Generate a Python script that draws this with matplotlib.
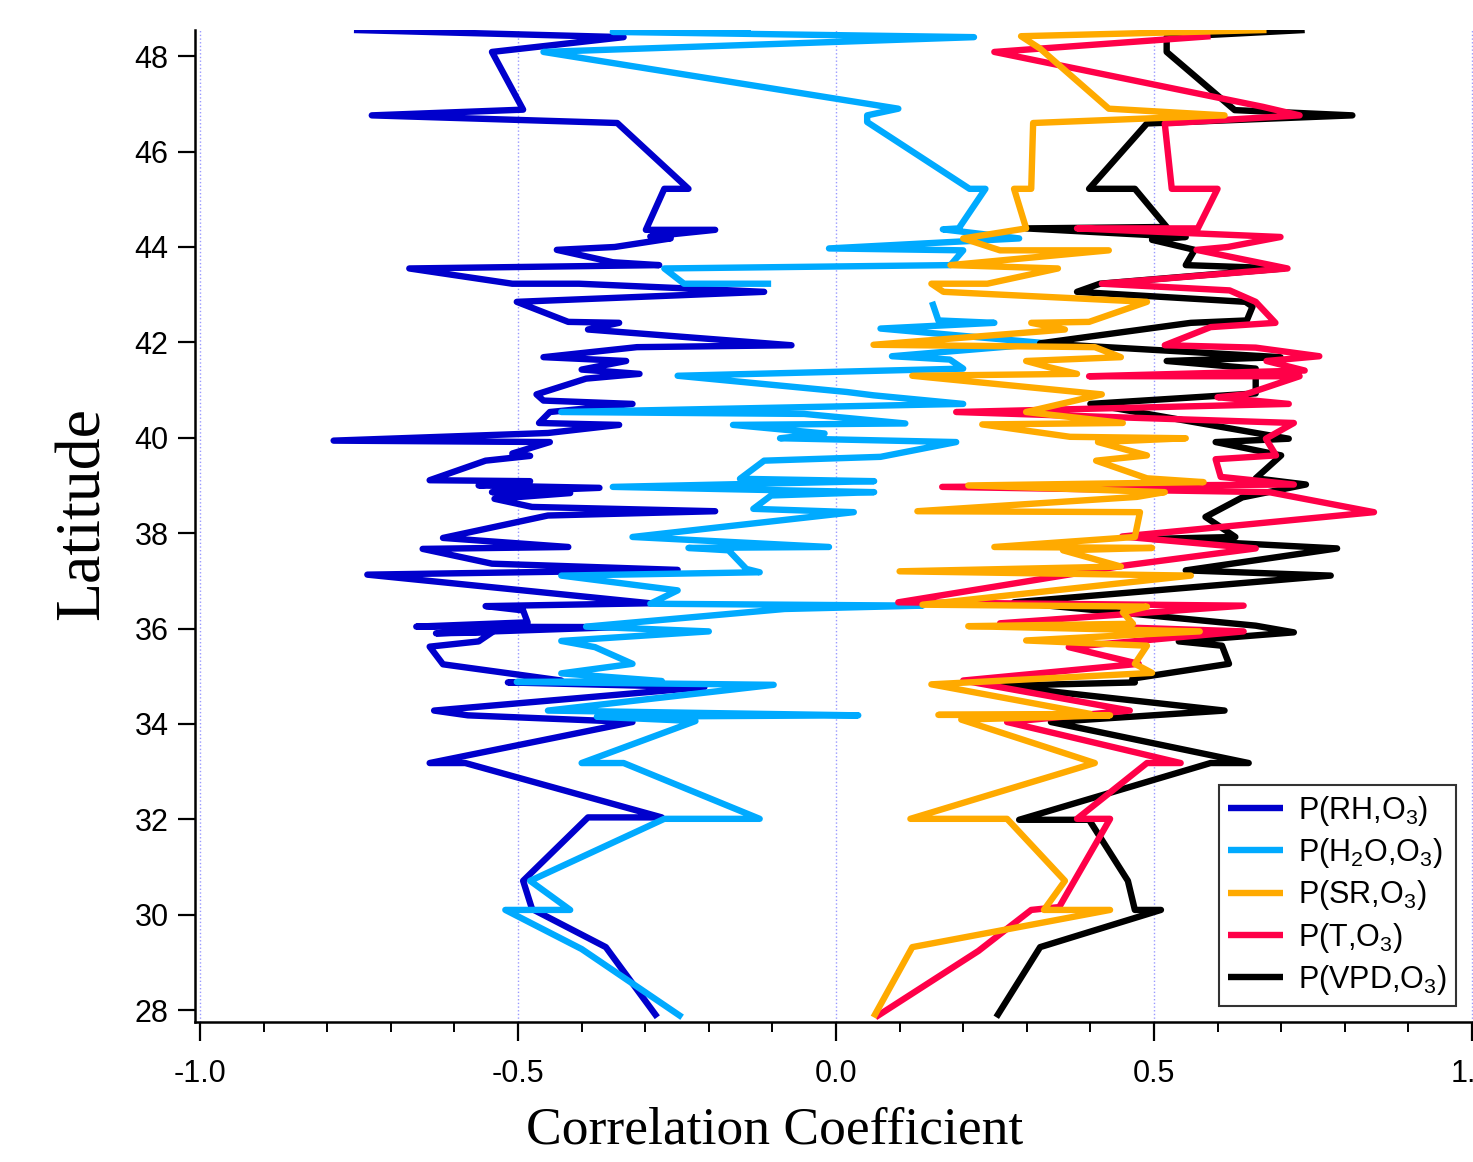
import numpy as np
import matplotlib
matplotlib.use("Agg")
import matplotlib.pyplot as plt
from matplotlib.ticker import MultipleLocator

plt.rcParams['font.family'] = ['Liberation Sans', 'DejaVu Sans']
plt.rcParams['mathtext.default'] = 'regular'
plt.rcParams['axes.unicode_minus'] = False

# latitude / correlation pairs, read top to bottom (nan = gap)
rh_lat = [48.55, 48.40, 48.09, 46.88, 46.76, 46.60, 45.22, 45.22, 44.36, 44.36, 44.22, 44.18,
          44.00, 43.94, 43.68, 43.62, 43.55, 43.23, 43.23, 43.06, 42.85, 42.43, 42.41, 42.27,
          41.94, 41.90, 41.69, 41.61, 41.43, 41.34, 41.24, 40.91, 40.78, 40.71, 40.54, 40.31,
          40.27, 40.10, 39.94, 39.91, 39.67, 39.62, 39.52, 39.11, 39.09, 39.00, 38.95, 38.86,
          38.84, 38.72, 38.55, 38.46, 38.37, 37.90, 37.71, 37.67, 37.36, 37.23, 37.13, 36.53,
          36.47, 36.38, 36.13, 36.04, 36.03, 35.90, 35.92, 35.73, 35.62, 35.25, 34.91, 34.87,
          34.77, 34.28, 34.18, 34.04, 33.18, 33.18, 32.04, 32.04, 30.71, 30.12, 29.32, 27.85]
rh_r = [-0.758, -0.334, -0.541, -0.492, -0.730, -0.344, -0.232, -0.270, -0.299, -0.190, -0.292, -0.260,
        -0.348, -0.439, -0.351, -0.278, -0.671, -0.509, -0.404, -0.113, -0.502, -0.421, -0.341, -0.390,
        -0.070, -0.313, -0.460, -0.330, -0.400, -0.309, -0.393, -0.471, -0.460, -0.320, -0.450, -0.467,
        -0.341, -0.453, -0.790, -0.450, -0.509, -0.481, -0.551, -0.639, -0.481, -0.562, -0.372, -0.541,
        -0.418, -0.537, -0.478, -0.190, -0.453, -0.618, -0.421, -0.650, -0.541, -0.249, -0.737, -0.292,
        -0.551, -0.492, -0.485, -0.660, -0.341, -0.629, -0.541, -0.562, -0.639, -0.618, -0.432, -0.516,
        -0.207, -0.632, -0.579, -0.320, -0.639, -0.583, -0.274, -0.390, -0.492, -0.478, -0.362, -0.281]

h2o_lat = [48.55, 48.51, 48.40, 48.09, 46.90, 46.76, 46.62, 45.22, 45.22, 44.39, 44.37, 44.18,
           43.97, 43.93, 43.62, 43.55, 43.23, 43.23, np.nan, 42.85, 42.46, 42.41, 42.29, 41.98,
           41.71, 41.64, 41.45, 41.30, 40.96, 40.89, 40.71, 40.54, 40.50, 40.30, 40.27, 40.09,
           39.99, 39.91, 39.60, 39.52, 39.14, 39.09, 38.97, 38.86, 38.79, 38.51, 38.44, 37.92,
           37.71, 37.69, 37.64, 37.25, 37.18, 37.11, 36.80, 36.52, 36.48, 36.41, 36.04, 35.94,
           35.74, 35.61, 35.26, 35.06, 34.90, 34.88, 34.82, 34.28, 34.18, 34.15, 34.06, 33.18,
           33.18, 32.01, 32.01, 30.71, 30.10, 30.10, 29.28, 27.85]
h2o_r = [-0.134, -0.351, 0.217, -0.460, 0.098, 0.049, 0.049, 0.210, 0.235, 0.193, 0.168, 0.288,
         -0.011, 0.200, 0.180, -0.270, -0.239, -0.102, np.nan, 0.151, 0.161, 0.249, 0.070, 0.332,
         0.088, 0.179, 0.200, -0.249, 0.017, 0.059, 0.200, -0.432, -0.050, 0.109, -0.162, -0.018,
         -0.088, 0.189, 0.070, -0.113, -0.151, 0.060, -0.351, 0.060, -0.102, -0.130, 0.028, -0.320,
         -0.011, -0.232, -0.169, -0.141, -0.120, -0.432, -0.249, -0.292, 0.136, -0.081, -0.393, -0.200,
         -0.432, -0.379, -0.320, -0.432, -0.274, -0.502, -0.098, -0.453, 0.035, -0.376, -0.221, -0.400,
         -0.334, -0.120, -0.270, -0.481, -0.418, -0.520, -0.400, -0.242]

sr_lat = [48.55, 48.42, 48.16, 46.90, 46.76, 46.60, 45.22, 45.22, 44.39, 44.18, 43.93, 43.93,
          43.62, 43.55, 43.23, 43.23, 43.06, 42.85, 42.43, 42.41, 42.27, 41.95, 41.90, 41.69,
          41.61, 41.48, 41.34, 41.30, 40.91, 40.54, 40.31, 40.28, 40.02, 39.99, 39.91, 39.63,
          39.52, 39.15, 39.07, 39.00, 38.86, 38.76, 38.46, 38.44, 37.92, 37.71, 37.69, 37.64,
          37.30, 37.20, 37.11, 36.50, 36.46, 36.34, 36.10, 36.05, 35.94, 35.75, 35.64, 35.26,
          35.07, 34.83, 34.21, 34.19, 34.18, 34.09, 33.18, 32.01, 32.01, 30.71, 30.10, 30.10,
          29.32, 27.85]
sr_r = [0.677, 0.291, 0.321, 0.429, 0.611, 0.310, 0.307, 0.280, 0.299, 0.200, 0.258, 0.429,
        0.180, 0.349, 0.238, 0.150, 0.169, 0.489, 0.398, 0.307, 0.360, 0.059, 0.407, 0.448,
        0.299, 0.335, 0.379, 0.120, 0.418, 0.299, 0.451, 0.230, 0.368, 0.550, 0.412, 0.489,
        0.409, 0.489, 0.578, 0.208, 0.517, 0.473, 0.128, 0.478, 0.470, 0.249, 0.497, 0.357,
        0.448, 0.100, 0.558, 0.136, 0.489, 0.451, 0.467, 0.208, 0.572, 0.299, 0.489, 0.470,
        0.497, 0.150, 0.400, 0.161, 0.431, 0.197, 0.407, 0.117, 0.269, 0.360, 0.327, 0.431,
        0.120, 0.059]

t_lat = [48.42, 48.09, 46.94, 46.76, 46.59, 45.22, 45.22, 44.39, 44.39, 44.21, 44.00, 43.94,
         43.55, 43.23, 43.09, 42.85, 42.41, 42.32, 41.94, 41.89, 41.71, 41.61, 41.41, 41.29,
         41.29, 40.91, 40.85, 40.71, 40.54, 40.31, 39.98, 39.63, 39.55, 39.18, 39.02, 38.97,
         38.86, 38.44, 37.93, 37.68, 37.32, 36.55, 36.48, 36.11, 35.94, 35.61, 35.26, 34.91,
         34.28, 34.04, 33.18, 33.18, 32.01, 32.01, 30.16, 30.10, 29.24, 27.85]
t_r = [0.589, 0.249, 0.671, 0.729, 0.517, 0.528, 0.600, 0.569, 0.379, 0.699, 0.616, 0.567,
       0.710, 0.418, 0.619, 0.660, 0.691, 0.589, 0.517, 0.660, 0.760, 0.677, 0.737, 0.398,
       0.729, 0.644, 0.600, 0.712, 0.189, 0.720, 0.676, 0.692, 0.597, 0.605, 0.720, 0.167,
       0.681, 0.846, 0.450, 0.660, 0.453, 0.098, 0.641, 0.258, 0.641, 0.366, 0.476, 0.200,
       0.462, 0.269, 0.542, 0.489, 0.379, 0.431, 0.351, 0.307, 0.224, 0.062]

vpd_lat = [48.55, 48.40, 48.09, 46.87, 46.76, 46.59, 45.22, 45.22, 44.42, 44.39, 44.21, 44.15,
           43.94, 43.62, 43.55, 43.23, 43.06, 42.85, 42.75, 42.46, 42.41, 41.98, 41.69, 41.61,
           41.45, 40.93, 40.71, 39.98, 39.91, 39.63, 39.15, 39.02, 38.75, 38.34, 37.92, 37.88,
           37.68, 37.22, 37.11, 36.55, 36.06, 35.92, 35.73, 35.64, 35.26, 34.95, 34.87, 34.80,
           34.28, 34.04, 33.18, 33.18, 31.99, 31.99, 30.71, 30.10, 30.10, 29.32, 27.85]
vpd_r = [0.737, 0.520, 0.520, 0.627, 0.812, 0.489, 0.398, 0.470, 0.520, 0.299, 0.550, 0.497,
         0.564, 0.550, 0.704, 0.415, 0.379, 0.644, 0.655, 0.646, 0.558, 0.321, 0.699, 0.520,
         0.660, 0.660, 0.400, 0.712, 0.597, 0.700, 0.660, 0.739, 0.639, 0.581, 0.628, 0.497,
         0.788, 0.550, 0.778, 0.280, 0.660, 0.720, 0.539, 0.607, 0.618, 0.466, 0.470, 0.258,
         0.611, 0.338, 0.649, 0.589, 0.288, 0.398, 0.459, 0.470, 0.511, 0.321, 0.252]

labels = ['P(RH,O$_3$)', 'P(H$_2$O,O$_3$)', 'P(SR,O$_3$)', 'P(T,O$_3$)', 'P(VPD,O$_3$)']
colors = ['#0000CC', '#00AAFF', '#FFAA00', '#FF0048', '#000000']

fig = plt.figure(figsize=(14.73, 11.62), dpi=100)
ax = fig.add_axes([195/1473, 140/1162, 1282/1473, 992/1162])

lw = 4.6
kw = dict(lw=lw, solid_joinstyle='round', solid_capstyle='butt')
l_rh, = ax.plot(rh_r, rh_lat, color=colors[0], zorder=3, **kw)
l_h2o, = ax.plot(h2o_r, h2o_lat, color=colors[1], zorder=4, **kw)
l_vpd, = ax.plot(vpd_r, vpd_lat, color=colors[4], zorder=5, **kw)
l_t, = ax.plot(t_r, t_lat, color=colors[3], zorder=6, **kw)
l_sr, = ax.plot(sr_r, sr_lat, color=colors[2], zorder=7, **kw)

ax.set_xlim(-1.008, 1.008)
ax.set_ylim(27.75, 48.55)
ax.xaxis.set_major_locator(MultipleLocator(0.5))
ax.xaxis.set_minor_locator(MultipleLocator(0.1))
ax.yaxis.set_major_locator(MultipleLocator(2))
ax.xaxis.set_major_formatter(matplotlib.ticker.FormatStrFormatter('%.1f'))

for s in ['top', 'right']:
    ax.spines[s].set_visible(False)
for s in ['left', 'bottom']:
    ax.spines[s].set_linewidth(1.8)

ax.tick_params(axis='x', which='major', direction='out', length=14, width=1.6,
               labelsize=22, pad=13)
ax.tick_params(axis='x', which='minor', direction='out', length=7, width=1.4)
ax.tick_params(axis='y', which='major', direction='out', length=12, width=1.6,
               labelsize=22, pad=7)

ax.grid(axis='x', which='major', linestyle=':', color='#9999ff', lw=1.0)

fig.text(775/1473, 1 - 1130/1162, 'Correlation Coefficient', family='Liberation Serif',
         fontsize=38.5, ha='center', va='center')
fig.text(84/1473, 1 - 513/1162, 'Latitude', family='Liberation Serif',
         fontsize=46, ha='center', va='center', rotation=90)

leg = ax.legend([l_rh, l_h2o, l_sr, l_t, l_vpd], labels, loc='lower right',
                bbox_to_anchor=((1456-195)/1282, (1022-1006)/992), borderaxespad=0,
                fontsize=22, frameon=True, fancybox=False, handlelength=1.8,
                handletextpad=0.5, labelspacing=0.27, borderpad=0.3)
leg.get_frame().set_edgecolor('black')
leg.get_frame().set_linewidth(1.5)

fig.savefig('out.png', dpi=100)
